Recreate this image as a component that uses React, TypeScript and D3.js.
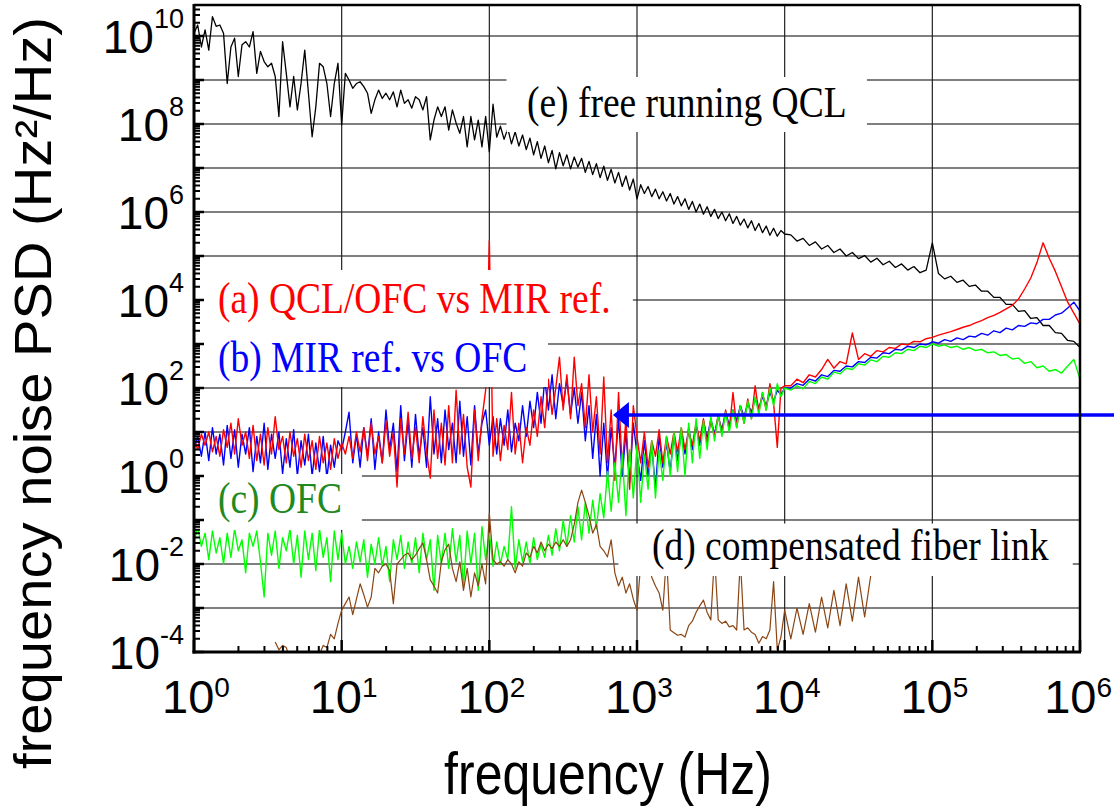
import React from 'react'
import * as d3 from 'd3'

// sampling grid (log10 Hz): 40 pts/decade up to 10 kHz, then 24 pts/decade to 1 MHz
const denseExp = d3.range(0, 161).map(i => i / 40)
const sparseExp = d3.range(1, 49).map(i => 4 + i / 24)
const freqExp = [...denseExp, ...sparseExp]

// log10(PSD), one value per grid point
const freeRunningQcl = [
  // 1-10 Hz
  10.06, 10.25, 9.75, 10.14, 9.68, 10.44, 10.22, 10.25, 10.06, 8.92, 9.75, 9.95, 9.08, 9.8, 9.87, 9.75, 10.10, 9.15, 9.65, 9.42,
  9.3, 9.38, 9.08, 8.17, 9.87, 9.15, 8.39, 9.08, 8.32, 8.92, 9.68, 8.70, 7.71, 8.39, 9.38, 9.3, 8.92, 8.17, 8.92, 9.38,
  // 10-100 Hz
  7.98, 9.15, 9.0, 8.81, 8.92, 8.96, 8.85, 8.70, 8.24, 8.55, 8.77, 8.58, 8.70, 8.55, 8.73, 8.39, 8.77, 8.47, 8.55, 8.36,
  8.62, 8.55, 8.32, 8.62, 7.64, 8.09, 8.39, 8.17, 8.39, 7.86, 8.32, 8.02, 7.79, 8.17, 7.48, 8.17, 7.64, 8.09, 7.48, 8.17,
  // 100 Hz-1 kHz
  7.37, 8.45, 7.7, 7.95, 7.65, 7.9, 7.55, 7.82, 7.5, 7.75, 7.42, 7.68, 7.3, 7.6, 7.22, 7.5, 7.12, 7.4, 6.98, 7.35,
  7.05, 7.3, 6.98, 7.25, 7.02, 7.22, 6.9, 7.15, 6.85, 7.1, 6.78, 7.04, 6.72, 6.97, 6.66, 6.9, 6.58, 6.82, 6.5, 6.75,
  // 1-10 kHz
  6.3, 6.62, 6.42, 6.58, 6.35, 6.52, 6.3, 6.46, 6.25, 6.42, 6.18, 6.35, 6.14, 6.3, 6.06, 6.24, 6.0, 6.18, 5.95, 6.12,
  5.9, 6.06, 5.85, 6.0, 5.8, 5.96, 5.74, 5.9, 5.7, 5.84, 5.64, 5.8, 5.58, 5.74, 5.53, 5.68, 5.47, 5.63, 5.45, 5.58,
  5.5,
  // 10 kHz-1 MHz
  5.48, 5.34, 5.4, 5.24, 5.32, 5.16, 5.24, 5.08, 5.16, 5.0, 5.08, 4.94, 5.01, 4.86, 4.95, 4.8, 4.88, 4.74, 4.82, 4.68, 4.76, 4.62, 4.68, 5.30,
  4.6, 4.48, 4.54, 4.4, 4.45, 4.31, 4.34, 4.2, 4.2, 4.06, 4.06, 3.9, 3.9, 3.74, 3.76, 3.58, 3.6, 3.42, 3.42, 3.26, 3.24, 3.08, 3.06, 2.92,
]

const qclVsMir = [
  0.85, 0.6, 0.95, 0.7, 1.0, 0.55, 0.9, 0.45, 1.05, 0.65, 1.2, 0.5, 1.3, 0.7, 1.0, 0.4, 1.15, 0.35, 0.95, 0.25,
  1.1, 0.5, 1.35, 0.6, 0.9, 0.3, 1.0, 0.45, 0.85, 0.2, 0.95, 0.35, 0.8, 0.15, 0.9, 0.3, 0.75, 0.15, 0.85, 0.4,
  0.75, 0.5, 0.9, 0.4, 1.0, 0.55, 1.1, 0.35, 1.2, 0.5, 0.9, 0.3, 1.25, 0.45, 1.0, -0.25, 1.3, 0.5, 1.45, 0.4,
  1.1, 0.3, 1.35, 0.55, -0.05, 1.5, 0.4, 1.2, 0.25, 1.6, 0.3, 1.95, 0.5, 1.4, 0.2, -0.25, 1.5, 0.35, 1.3, 1.95,
  5.35, 0.45, 1.3, 0.35, 1.15, 0.6, 1.9, 0.5, 1.2, 0.3, 1.1, 0.7, 1.5, 0.9, 1.8, 1.1, 2.2, 1.4, 2.0, 2.7,
  1.5, 2.3, 1.3, 2.7, 1.6, 2.1, 1.1, 2.3, 1.0, 1.8, 0.5, 2.25, 0.3, 1.5, -0.1, 1.9, 0.2, 1.3, -0.3, 1.6,
  0.9, 0.3, 1.0, 0.2, 0.8, 0.45, 1.05, 0.3, 0.9, 0.5, 1.0, 0.55, 1.1, 0.6, 1.0, 0.7, 1.2, 0.8, 1.3, 0.75,
  1.25, 0.9, 1.4, 0.95, 1.5, 1.05, 1.9, 1.1, 1.6, 1.2, 1.75, 1.3, 2.05, 1.45, 1.9, 1.5, 2.1, 1.65, 0.65, 2.0,
  2.05,
  2.05, 2.2, 2.12, 2.3, 2.25, 2.42, 2.65, 2.45, 2.6, 2.55, 3.25, 2.65, 2.78, 2.72, 2.85, 2.82, 2.92, 2.9, 3.0, 2.98, 3.06, 3.05, 3.12, 3.15,
  3.2, 3.24, 3.28, 3.33, 3.38, 3.42, 3.48, 3.53, 3.6, 3.65, 3.72, 3.8, 3.88, 4.02, 4.25, 4.5, 4.85, 5.3, 4.95, 4.65, 4.3, 3.95, 3.7, 3.45,
]

const mirVsOfc = [
  0.6, 0.9, 0.45, 1.0, 0.35, 1.1, 0.5, 0.95, 0.25, 1.15, 0.4, 1.05, 0.2, 0.95, 0.5, 1.1, 0.1, 0.9, 0.3, 1.2,
  0.15, 0.95, 0.4, 1.0, 0.05, 0.85, 0.2, 1.05, 0.0, 0.8, 0.25, 0.95, 0.0, 0.75, 0.1, 0.9, -0.05, 0.7, 0.2, 0.8,
  0.6, 1.0, 1.45, 0.3, 0.95, 0.2, 1.1, 0.45, 1.3, 0.15, 1.0, 0.3, 1.5, 0.6, 1.2, 0.1, 1.6, 0.35, 1.25, 0.2,
  1.4, 0.45, 1.1, 0.2, 1.8, 0.5, 1.3, 0.3, 1.5, 0.6, 1.2, 0.3, 1.7, 0.45, 1.35, 0.25, 1.6, 0.5, 1.2, 1.5,
  0.7, 1.35, 0.5, 1.3, 0.7, 1.5, 0.55, 1.2, 0.8, 1.6, 0.9, 1.7, 1.1, 1.9, 1.2, 2.2, 1.5, 2.3, 1.3, 2.1,
  1.6, 2.2, 1.4, 2.0, 1.2, 1.9, 0.8, 1.6, 0.4, 1.4, 0.0, 1.2, -0.05, 1.1, 0.2, 1.3, 0.0, 1.0, -0.15, 1.2,
  0.5, -0.1, 0.8, 0.0, 0.7, -0.3, 0.9, 0.2, 0.75, 0.1, 0.95, 0.35, 1.0, 0.5, 1.1, 0.6, 1.15, 0.7, 1.25, 0.85,
  1.3, 0.95, 1.35, 1.05, 1.45, 1.15, 1.5, 1.25, 1.6, 1.35, 1.65, 1.45, 1.75, 1.55, 1.8, 1.6, 1.9, 1.7, 1.95, 1.85,
  2.0,
  2.0, 2.1, 2.06, 2.2, 2.16, 2.3, 2.26, 2.4, 2.38, 2.5, 2.48, 2.6, 2.58, 2.7, 2.68, 2.8, 2.78, 2.88, 2.86, 2.95, 2.92, 3.0, 2.98, 3.05,
  3.02, 3.1, 3.06, 3.14, 3.1, 3.18, 3.16, 3.24, 3.2, 3.3, 3.26, 3.36, 3.32, 3.42, 3.4, 3.48, 3.46, 3.56, 3.56, 3.66, 3.7, 3.82, 3.95, 3.75,
]

const ofc = [
  -1.5, -1.15, -1.6, -1.3, -1.9, -1.25, -1.75, -1.4, -2.0, -1.3, -1.85, -1.2, -1.7, -1.45, -2.2, -1.3, -1.6, -1.25, -1.95, -2.75,
  -1.3, -1.8, -1.25, -2.1, -1.4, -1.7, -1.2, -2.0, -1.35, -2.3, -1.25, -1.9, -1.3, -2.15, -1.2, -1.85, -1.4, -2.4, -1.25, -1.9,
  -1.3, -2.0, -1.6, -2.1, -1.5, -1.95, -1.45, -2.3, -1.55, -2.0, -1.4, -2.05, -1.6, -2.4, -1.45, -1.9, -1.35, -2.1, -1.5, -2.0,
  -1.4, -2.2, -1.3, -1.9, -1.45, -2.6, -1.35, -2.0, -1.3, -2.1, -1.2, -1.95, -1.35, -2.5, -1.25, -2.0, -1.3, -2.6, -1.15, -1.9,
  -1.3, -2.05, -1.5, -2.0, -1.6, -1.9, -0.7, -2.1, -1.45, -1.95, -1.5, -2.0, -1.4, -1.9, -1.55, -1.85, -1.35, -1.8, -1.2, -1.7,
  -1.0, -1.6, -0.9, -1.5, -0.7, -1.45, -0.6, -1.3, -0.55, -1.2, -0.4, -0.95, 0.1, -0.8, 0.3, -0.6, 0.5, -0.9, 0.6, -0.5,
  0.7, -0.6, 0.5, -0.3, 0.8, -0.5, 0.6, -0.1, 0.9, 0.0, 1.0, 0.1, 1.1, 0.0, 1.2, 0.3, 1.3, 0.4, 1.25, 0.6,
  1.35, 0.8, 1.4, 0.9, 1.45, 1.0, 1.5, 1.1, 1.6, 1.2, 1.7, 1.3, 1.8, 1.4, 1.9, 1.5, 2.0, 1.6, 2.1, 1.8,
  2.0,
  1.95, 2.05, 1.98, 2.15, 2.1, 2.25, 2.2, 2.36, 2.32, 2.45, 2.42, 2.55, 2.52, 2.64, 2.6, 2.72, 2.7, 2.8, 2.78, 2.88, 2.85, 2.95, 2.92, 3.0,
  2.95, 2.98, 2.92, 2.95, 2.88, 2.92, 2.85, 2.88, 2.8, 2.82, 2.74, 2.76, 2.66, 2.68, 2.56, 2.6, 2.46, 2.5, 2.38, 2.42, 2.34, 2.5, 2.65, 2.2,
]

// fiber link trace begins at grid index 22 (~3.5 Hz) and stops near 40 kHz
const fiberLinkStart = 22
const fiberLink = [
  -3.77, -3.95, -3.85, -3.9, -4.15, -4.3, -4.5, -4.6,
  -4.5, -4.4, -4.3, -4.15, -4.05, -3.85, -3.9, -3.6, -3.7, -3.35,
  -3.05, -2.9, -2.75, -3.15, -2.8, -2.45, -2.7, -2.98, -2.75, -2.1,
  -2.2, -2.05, -2.0, -2.15, -2.9, -2.0, -1.9, -1.8, -1.75, -1.9,
  -1.8, -1.65, -1.52, -1.9, -2.36, -2.5, -2.66, -1.95, -1.68, -1.55,
  -2.1, -2.4, -1.95, -2.6, -2.1, -2.75, -2.2, -2.5, -2.0, -2.45,
  -0.84, -1.9, -2.0, -1.95, -2.05, -1.9, -2.0, -2.2, -1.95, -2.05,
  -1.75, -1.85, -1.6, -1.75, -1.5, -1.7, -1.55, -1.65, -1.5, -1.6,
  -1.45, -1.6, -1.45, -1.1, -0.6, -0.32, -0.6, -0.9, -1.3, -1.1,
  -1.6, -1.7, -1.84, -1.45, -2.2, -2.5, -2.3, -2.66, -2.45, -2.8,
  -3.05, -2.0, -1.8, -1.9, -2.3, -2.5, -2.66, -3.05, -1.8, -3.5,
  -3.56, -3.62, -3.6, -3.66, -3.4, -3.3, -3.1, -2.95, -2.82, -3.1,
  -3.27, -1.8, -3.27, -3.35, -3.3, -3.43, -3.4, -3.5, -1.9, -3.5,
  -3.45, -3.55, -3.6, -3.8, -3.65, -3.7, -3.5, -2.4, -3.95, -3.66,
  -3.05,
  -3.7, -3.0, -3.6, -2.9, -3.55, -2.75, -3.45, -2.6, -3.4, -2.45, -3.3, -2.3, -3.2, -2.25,
]

const xTickExp = [0, 1, 2, 3, 4, 5, 6]
const yTickExp = [-4, -2, 0, 2, 4, 6, 8, 10]

// labels: anchor and white backing box, in log10 units [f0, f1, v0, v1]
const labels = [
  { text: '(e) free running QCL', color: '#000', f: 2.255, v: 8.159, box: [2.106, 4.557, 9.068, 7.818] },
  { text: '(a) QCL/OFC vs MIR ref.', color: '#ff0000', f: 0.1625, v: 3.705, box: [0, 2.972, 4.682, 3.25] },
  { text: '(b) MIR ref. vs OFC', color: '#0000ff', f: 0.1625, v: 2.364, box: [0, 2.397, 3.25, 2.023] },
  { text: '(c) OFC', color: '#1f8a1f', f: 0.1625, v: -0.841, box: [0, 1.137, 0.0455, -1.227] },
  { text: '(d) compensated fiber link', color: '#000', f: 3.101, v: -1.909, box: [2.864, 5.951, -1.08, -2.273] },
]

const arrowLevel = 1.386
const arrowTipFreq = 2.837

const W = 1114
const H = 807
const plot = { left: 194, right: 1080, top: 5, bottom: 652 }

const x = d3.scaleLog().domain([1, 1e6]).range([plot.left, plot.right])
const y = d3.scaleLog().domain([1e-4, 1e10]).range([plot.bottom, 36])

const toPoints = (vals: number[], start = 0) =>
  vals.map((v, i) => ({ f: 10 ** freqExp[start + i], p: 10 ** v }))

const line = d3
  .line<{ f: number; p: number }>()
  .x(d => x(d.f))
  .y(d => y(d.p))

const series = [
  { name: 'e', color: '#000000', width: 1.3, pts: toPoints(freeRunningQcl) },
  { name: 'b', color: '#0000ff', width: 1.4, pts: toPoints(mirVsOfc) },
  { name: 'a', color: '#ff0000', width: 1.4, pts: toPoints(qclVsMir) },
  { name: 'c', color: '#00ff00', width: 1.4, pts: toPoints(ofc) },
  { name: 'd', color: '#8b4513', width: 1.2, pts: toPoints(fiberLink, fiberLinkStart) },
]

const sans = 'Liberation Sans, Arial, sans-serif'
const serif = 'Liberation Serif, Times New Roman, serif'

export default function App() {
  const yMinor: number[] = []
  for (let e = -4; e <= 10; e++) {
    for (let m = 2; m <= 9; m++) {
      const v = m * 10 ** e
      if (y(v) > plot.top + 2) yMinor.push(v)
    }
  }
  const xMinor: number[] = []
  for (let e = 0; e < 6; e++) for (let m = 2; m <= 9; m++) xMinor.push(m * 10 ** e)
  const yMajor = d3.range(-4, 11).map(e => 10 ** e)
  const xMajor = xTickExp.map(e => 10 ** e)

  const ay = y(10 ** arrowLevel)
  const ax = x(10 ** arrowTipFreq)

  return (
    <svg width={W} height={H} style={{ position: 'absolute', left: 0, top: 0, background: '#fff' }}>
      <defs>
        <clipPath id="plotClip">
          <rect x={plot.left} y={plot.top} width={plot.right - plot.left} height={plot.bottom - plot.top} />
        </clipPath>
      </defs>

      {/* grid */}
      {yMajor.slice(1).map(v => (
        <line key={'gy' + v} x1={plot.left} x2={plot.right} y1={y(v)} y2={y(v)} stroke="#555" strokeWidth={1.6} />
      ))}
      {xMajor.slice(1, -1).map(v => (
        <line key={'gx' + v} x1={x(v)} x2={x(v)} y1={plot.top} y2={plot.bottom} stroke="#222" strokeWidth={1.2} />
      ))}

      <g clipPath="url(#plotClip)">
        {series.map(s => (
          <path key={s.name} d={line(s.pts) || ''} fill="none" stroke={s.color} strokeWidth={s.width} strokeLinejoin="round" />
        ))}
      </g>

      {/* label backing boxes */}
      {labels.map(l => {
        const x0 = x(10 ** l.box[0])
        const x1 = x(10 ** l.box[1])
        const y0 = y(10 ** l.box[2])
        const y1 = y(10 ** l.box[3])
        return <rect key={'b' + l.text} x={x0 + 1.5} y={y0} width={x1 - x0 - 1.5} height={y1 - y0} fill="#fff" />
      })}
      {labels.map(l => (
        <text
          key={l.text}
          transform={`translate(${x(10 ** l.f)},${y(10 ** l.v)}) scale(1,1.2)`}
          fill={l.color}
          fontFamily={serif}
          fontSize={37.5}
        >
          {l.text}
        </text>
      ))}

      {/* arrow */}
      <line x1={ax + 14} x2={W} y1={ay} y2={ay} stroke="#0000ff" strokeWidth={3.5} />
      <path d={`M${ax},${ay} L${ax + 16},${ay - 13} L${ax + 16},${ay + 13} Z`} fill="#0000ff" />

      {/* frame */}
      <line x1={plot.left} x2={plot.right} y1={plot.top} y2={plot.top} stroke="#000" strokeWidth={2.5} />
      <line x1={plot.right} x2={plot.right} y1={plot.top} y2={plot.bottom} stroke="#000" strokeWidth={2.5} />
      <line x1={plot.left} x2={plot.left} y1={plot.top - 1} y2={plot.bottom + 1.5} stroke="#000" strokeWidth={3} />
      <line x1={plot.left - 1.5} x2={plot.right + 1} y1={plot.bottom} y2={plot.bottom} stroke="#000" strokeWidth={3} />

      {/* ticks */}
      {yMajor.map(v => (
        <line key={'ty' + v} x1={plot.left} x2={plot.left + 10} y1={y(v)} y2={y(v)} stroke="#000" strokeWidth={2.5} />
      ))}
      {yMinor.map(v => (
        <line key={'tym' + v} x1={plot.left} x2={plot.left + 6} y1={y(v)} y2={y(v)} stroke="#000" strokeWidth={2} />
      ))}
      {xMajor.map(v => (
        <line key={'tx' + v} x1={x(v)} x2={x(v)} y1={plot.bottom} y2={plot.bottom - 12} stroke="#000" strokeWidth={2.5} />
      ))}
      {xMinor.map(v => (
        <line key={'txm' + v} x1={x(v)} x2={x(v)} y1={plot.bottom} y2={plot.bottom - 6} stroke="#000" strokeWidth={2} />
      ))}

      {/* tick labels */}
      {yTickExp.map(e => (
        <text key={'ly' + e} x={184} y={y(10 ** e) + 17} textAnchor="end" fontFamily={sans} fontSize={46}>
          10
          <tspan dy={-25} fontSize={27}>
            {e}
          </tspan>
        </text>
      ))}
      {xTickExp.map(e => (
        <text
          key={'lx' + e}
          x={e === 6 ? W - 2 : x(10 ** e) + 2}
          y={713}
          textAnchor={e === 6 ? 'end' : 'middle'}
          fontFamily={sans}
          fontSize={47}
        >
          10
          <tspan dy={-16} fontSize={28}>
            {e}
          </tspan>
        </text>
      ))}

      {/* axis titles */}
      <text transform="translate(608,794) scale(1,1.2)" textAnchor="middle" fontFamily={sans} fontSize={50}>
        frequency (Hz)
      </text>
      <text transform="translate(51,393) rotate(-90) scale(1.08,1)" textAnchor="middle" fontFamily={sans} fontSize={52}>
        frequency noise PSD (Hz²/Hz)
      </text>
    </svg>
  )
}
